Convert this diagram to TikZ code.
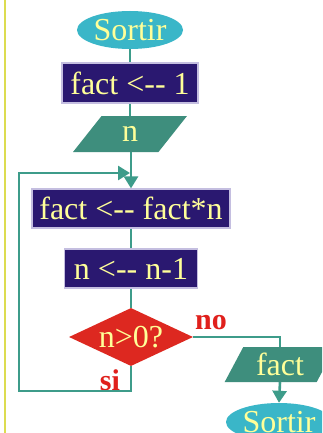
\documentclass[tikz,border=0pt]{standalone}
\usepackage{fontspec}
\setmainfont{Liberation Serif}
\usetikzlibrary{shapes.geometric,arrows.meta}
\definecolor{cyanfill}{HTML}{3AB6C8}
\definecolor{navyfill}{HTML}{2A1870}
\definecolor{lavedge}{HTML}{C4BEE0}
\definecolor{tealfill}{HTML}{3E8E7D}
\definecolor{redfill}{HTML}{DD2820}
\definecolor{connc}{HTML}{3D9C8A}
\definecolor{txtc}{HTML}{FFFF99}
\definecolor{labred}{HTML}{E0201C}
\definecolor{yline}{HTML}{DCDC50}
\tikzset{
  base/.style={text=txtc, font=\fontsize{32}{36}\selectfont, inner sep=0pt},
  term/.style={base, ellipse, fill=cyanfill, minimum width=106pt, minimum height=38pt},
  proc/.style={base, rectangle, fill=navyfill, draw=lavedge, line width=1.2pt},
  iobox/.style={base, trapezium, trapezium left angle=62, trapezium right angle=118,
     trapezium stretches=true, fill=tealfill, minimum height=36pt},
  decide/.style={base, diamond, aspect=2.14, fill=redfill, minimum width=124pt, minimum height=58pt},
  conn/.style={draw=connc, line width=2.6pt},
  arr/.style={conn, -{Triangle[width=14pt,length=12pt]}},
  lab/.style={text=labred, font=\fontsize{30}{32}\selectfont\bfseries, inner sep=0pt}
}
\begin{document}
\begin{tikzpicture}[x=1pt,y=-1pt]
\useasboundingbox (0,0) rectangle (322,433);
\clip (0,0) rectangle (322,433);
\fill[white] (0,0) rectangle (322,433);
\draw[yline, line width=2pt] (5,0) -- (5,433);
\node[term] (s1) at (130,30) {Sortir};
\node[proc, minimum width=136pt, minimum height=40pt] (r1) at (130,83) {fact {<}-\kern0pt- 1};
\node[iobox, minimum width=114pt] (n) at (130,134) {n};
\node[proc, minimum width=198pt, minimum height=39pt] (r2) at (131,208.5) {fact {<}-\kern0pt- fact*n};
\node[proc, minimum width=133pt, minimum height=39pt] (r3) at (131,268.5) {n {<}-\kern0pt- n-1};
\node[decide] (d) at (131,337) {n>0?};
\node[iobox, minimum width=111pt, minimum height=35pt] (f) at (280,364.5) {fact};
\node[term] (s2) at (279,422) {Sortir};
\node[lab] (no) at (211,323) {no};
\node[lab] (si) at (110,380) {si};
\coordinate (bl) at (19,391);
\coordinate (tl) at (19,173);
\coordinate (jn) at (130,173);
\draw[conn] (s1) -- (r1);
\draw[conn] (r1) -- (n);
\draw[arr] (n.south -| r2.north) -- (r2.north);
\draw[conn] (r2) -- (r3);
\draw[conn] (r3) -- (d);
\draw[arr] (d.south) |- (bl) -- (tl) -- (jn);
\draw[conn] (d.east) -| (f.north);
\draw[arr] (f.south) -- (s2.north);
\end{tikzpicture}
\end{document}
